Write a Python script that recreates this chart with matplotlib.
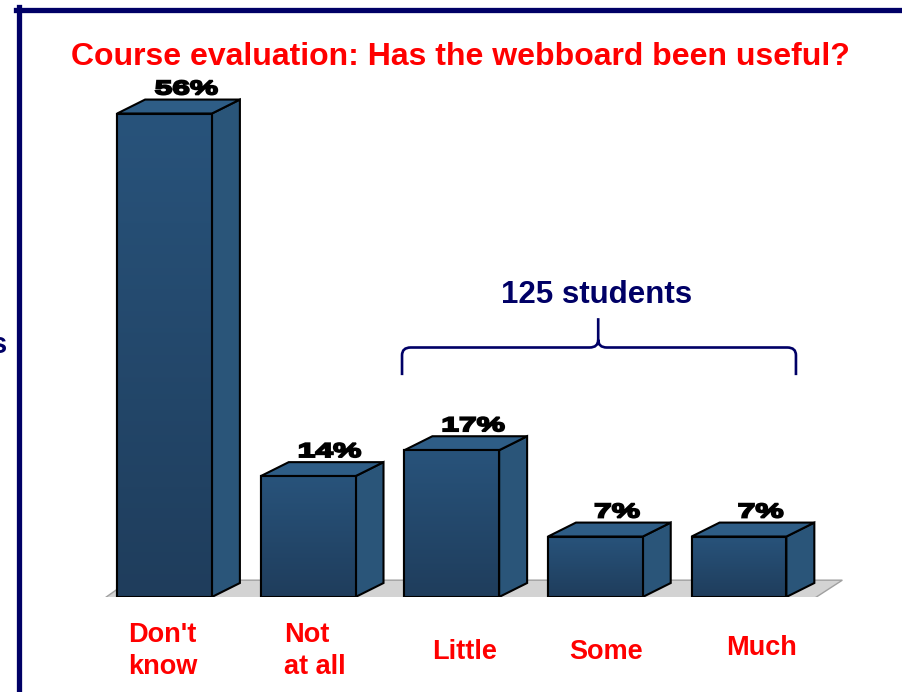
import matplotlib
matplotlib.use("Agg")
import numpy as np
import matplotlib.pyplot as plt
from matplotlib.patches import Polygon, PathPatch
from matplotlib.path import Path
from matplotlib.textpath import TextPath
from matplotlib.font_manager import FontProperties
from matplotlib.colors import LinearSegmentedColormap
import matplotlib.transforms as mtransforms

# data
categories = ["Don't\nknow", "Not\nat all", "Little", "Some", "Much"]
percents = [56, 14, 17, 7, 7]
pct_labels = ["56%", "14%", "17%", "7%", "7%"]
title = "Course evaluation: Has the webboard been useful?"
group_note = "125 students"

W, H = 903, 692
navy = "#000066"
red = "#ff0000"
side_col = "#2a5579"
top_col = "#2e5d86"
front_grad = LinearSegmentedColormap.from_list("front", ["#1f3d5c", "#28537b"])

fig = plt.figure(figsize=(W / 100, H / 100), dpi=100)
plt.rcParams['font.family'] = ['Liberation Sans', 'DejaVu Sans']

def fx(px):
    return px / W

def fy(py):
    return 1 - py / H

# axes placed so that bars land where they are on the slide
ax = fig.add_axes([0.08675, 0.13728, 0.8747, 0.74855])
ax.set_xlim(-0.6, 4.9)
ax.set_ylim(0, 60)
ax.axis('off')

xs = list(range(len(percents)))
bw = 0.66   # bar width in category units
dx = 0.195  # 3d depth
dy = 1.62

# grey floor
floor = Polygon([(-0.414, -0.1), (-0.24, 1.95), (4.72, 1.95), (4.53, -0.1)],
                closed=True, facecolor="#d3d3d3", edgecolor="#a0a0a0", lw=1, zorder=1)
ax.add_patch(floor)

bars = ax.bar(xs, percents, width=bw, color="#24496e", edgecolor="black", linewidth=1.5, zorder=3)
grad = np.linspace(0, 1, 256).reshape(-1, 1)
for b in bars:
    x0, y0 = b.get_x(), b.get_y()
    im = ax.imshow(grad, cmap=front_grad, origin='lower', aspect='auto', zorder=3.1,
                   extent=[x0, x0 + b.get_width(), y0, y0 + b.get_height()])
    im.set_clip_path(b)
    # redraw outline above the gradient
    ax.add_patch(plt.Rectangle((x0, y0), b.get_width(), b.get_height(), fill=False,
                               edgecolor="black", lw=1.5, zorder=3.2))
ax.set_xlim(-0.6, 4.9)
ax.set_ylim(0, 60)

for x, v in zip(xs, percents):
    l, r = x - bw / 2, x + bw / 2
    side = Polygon([(r, 0), (r + dx, dy), (r + dx, v + dy), (r, v)],
                   closed=True, facecolor=side_col, edgecolor="black", lw=1.5, zorder=2)
    top = Polygon([(l, v), (l + dx, v + dy), (r + dx, v + dy), (r, v)],
                  closed=True, facecolor=top_col, edgecolor="black", lw=1.5, zorder=2)
    ax.add_patch(side)
    ax.add_patch(top)

# stretched percentage labels (heavy, wide lettering)
fig.canvas.draw()
prop = FontProperties(family="Liberation Sans", weight="bold")
for x, v, lab in zip(xs, percents, pct_labels):
    tp = TextPath((0, 0), lab, size=1, prop=prop)
    ext = tp.get_extents()
    sy = 14 / ext.height
    sx = sy * 1.6
    cx, cy = ax.transData.transform((x + 0.153, v + dy))
    tr = (mtransforms.Affine2D().translate(-(ext.x0 + ext.width / 2), -ext.y0)
          .scale(sx, sy).translate(cx, cy + 5))
    patch = PathPatch(tp, facecolor="black", edgecolor="black", lw=1.4,
                      transform=tr)
    fig.add_artist(patch)

# category labels
fs = 19.5
fig.text(fx(128), fy(651), categories[0], color=red, fontsize=fs, fontweight='bold',
         ha='left', va='center', linespacing=1.35)
fig.text(fx(284), fy(651), categories[1], color=red, fontsize=fs, fontweight='bold',
         ha='left', va='center', linespacing=1.35)
fig.text(fx(465), fy(652), categories[2], color=red, fontsize=fs, fontweight='bold',
         ha='center', va='center')
fig.text(fx(606), fy(652), categories[3], color=red, fontsize=fs, fontweight='bold',
         ha='center', va='center')
fig.text(fx(762), fy(648), categories[4], color=red, fontsize=fs, fontweight='bold',
         ha='center', va='center')

# title
fig.text(fx(460), fy(57), title, color=red, fontsize=23, fontweight='bold',
         ha='center', va='center')

# brace over the last three bars
x0, x1, xm = 1.654, 4.397, 3.02
yb, ye, yt = 28.9, 25.7, 32.3
ex, ey = 0.06, 0.9
verts = [(x0, ye), (x0, yb - ey), (x0, yb), (x0 + ex, yb),
         (xm - ex, yb), (xm, yb), (xm, yb + ey), (xm, yt),
         (xm, yb + ey), (xm, yb), (xm + ex, yb),
         (x1 - ex, yb), (x1, yb), (x1, yb - ey), (x1, ye)]
codes = [Path.MOVETO, Path.LINETO, Path.CURVE3, Path.CURVE3,
         Path.LINETO, Path.CURVE3, Path.CURVE3, Path.LINETO,
         Path.MOVETO, Path.CURVE3, Path.CURVE3,
         Path.LINETO, Path.CURVE3, Path.CURVE3, Path.LINETO]
ax.add_patch(PathPatch(Path(verts, codes), facecolor='none', edgecolor=navy, lw=1.9,
                       clip_on=False, zorder=4))
fig.text(fx(597), fy(295), group_note, color=navy, fontsize=22.5, fontweight='bold',
         ha='center', va='center')

# slide frame and clipped text at left edge
fig.add_artist(plt.Line2D([fx(16), 1.0], [fy(9.5), fy(9.5)], color=navy, lw=3.8))
fig.add_artist(plt.Line2D([fx(18.5), fx(18.5)], [fy(7), 0.0], color=navy, lw=3.8))
fig.text(fx(-9), fy(345), "s", color=navy, fontsize=21, fontweight='bold',
         ha='left', va='center')

fig.savefig("out.png", dpi=100)
